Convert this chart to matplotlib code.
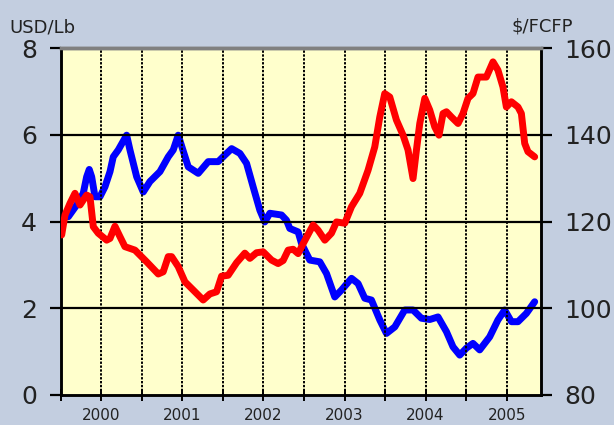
import matplotlib
matplotlib.use("Agg")
import matplotlib.pyplot as plt
from matplotlib.ticker import FixedLocator, NullFormatter

# ---- data (decimal years) ----
red_t = [2000.012, 2000.053, 2000.115, 2000.176, 2000.238, 2000.320, 2000.361, 2000.402,
         2000.463, 2000.567, 2000.608, 2000.669, 2000.731, 2000.792, 2000.916, 2001.060,
         2001.203, 2001.264, 2001.326, 2001.368, 2001.449, 2001.532, 2001.634, 2001.757,
         2001.840, 2001.922, 2001.984, 2002.065, 2002.169, 2002.271, 2002.333, 2002.415,
         2002.497, 2002.600, 2002.681, 2002.743, 2002.805, 2002.866, 2002.928, 2002.990,
         2003.113, 2003.174, 2003.257, 2003.339, 2003.401, 2003.503, 2003.586, 2003.688,
         2003.790, 2003.873, 2003.935, 2003.996, 2004.058, 2004.140, 2004.222, 2004.283,
         2004.345, 2004.387, 2004.428, 2004.490, 2004.551, 2004.613, 2004.665, 2004.715,
         2004.757, 2004.818, 2004.900, 2004.961, 2005.023, 2005.084, 2005.146, 2005.249,
         2005.331, 2005.392, 2005.454, 2005.496, 2005.558, 2005.639, 2005.681, 2005.722,
         2005.762, 2005.845]
red_v = [3.69, 4.15, 4.42, 4.65, 4.38, 4.61, 4.57, 3.88,
         3.73, 3.57, 3.61, 3.89, 3.65, 3.42, 3.34, 3.07,
         2.79, 2.84, 3.19, 3.19, 2.96, 2.61, 2.42, 2.19,
         2.33, 2.38, 2.74, 2.76, 3.05, 3.27, 3.15, 3.28,
         3.30, 3.11, 3.03, 3.10, 3.34, 3.36, 3.26, 3.49,
         3.92, 3.80, 3.57, 3.73, 3.99, 3.96, 4.34, 4.65,
         5.18, 5.72, 6.41, 6.95, 6.87, 6.34, 5.99, 5.65,
         4.99, 5.65, 6.26, 6.84, 6.57, 6.18, 5.99, 6.49,
         6.53, 6.41, 6.26, 6.49, 6.84, 6.95, 7.33, 7.33,
         7.68, 7.49, 7.10, 6.64, 6.76, 6.64, 6.49, 5.80,
         5.61, 5.49]

blue_t = [2000.032, 2000.094, 2000.197, 2000.278, 2000.320, 2000.352, 2000.382, 2000.423,
          2000.484, 2000.546, 2000.608, 2000.648, 2000.710, 2000.813, 2000.854, 2000.937,
          2001.018, 2001.100, 2001.224, 2001.326, 2001.388, 2001.449, 2001.573, 2001.696,
          2001.819, 2001.942, 2002.024, 2002.108, 2002.210, 2002.292, 2002.373, 2002.456,
          2002.517, 2002.579, 2002.723, 2002.784, 2002.825, 2002.928, 2002.970, 2003.031,
          2003.072, 2003.195, 2003.278, 2003.380, 2003.463, 2003.586, 2003.667, 2003.750,
          2003.832, 2003.935, 2004.017, 2004.120, 2004.243, 2004.345, 2004.448, 2004.551,
          2004.653, 2004.757, 2004.838, 2004.921, 2005.003, 2005.084, 2005.167, 2005.290,
          2005.392, 2005.475, 2005.558, 2005.639, 2005.742, 2005.845]
blue_v = [121.5, 121.1, 123.8, 126.5, 130.3, 132.0, 130.3, 125.7,
          125.7, 128.0, 131.5, 134.9, 136.5, 139.9, 136.5, 130.3,
          126.8, 129.2, 131.5, 134.9, 136.5, 139.9, 132.6, 131.1,
          133.8, 133.8, 135.3, 136.8, 135.7, 133.4, 128.0, 122.6,
          119.9, 121.9, 121.5, 120.3, 118.4, 117.6, 114.9, 112.6,
          111.1, 110.7, 108.0, 102.6, 104.2, 106.9, 105.7, 102.3,
          101.9, 97.3, 94.2, 95.7, 99.6, 99.6, 97.7, 97.4,
          98.0, 94.6, 91.1, 89.2, 90.8, 91.9, 90.4, 93.4,
          97.3, 99.6, 96.9, 96.9, 98.8, 101.5]

year_labels = ["2000", "2001", "2002", "2003", "2004", "2005"]
left_ticks = [0, 2, 4, 6, 8]
right_ticks = [80, 100, 120, 140, 160]

W, H = 614, 425
fig = plt.figure(figsize=(W / 100, H / 100), dpi=100)
fig.patch.set_facecolor("#c3cee0")

ax = fig.add_axes([60.7 / W, (H - 395) / H, (541 - 60.7) / W, (395 - 48) / H])
ax.set_facecolor("#ffffcc")
ax2 = ax.twinx()

ax.set_xlim(2000.0, 2005.923)
ax.set_ylim(0, 8)
ax2.set_ylim(80, 160)

# grid lines
for y in [2, 4, 6]:
    ax.axhline(y, color="black", lw=1.6, zorder=1)
for k in range(1, 12):
    ax.axvline(2000.0 + 0.5 * k, color="black", lw=1.4, ls=(0, (1.2, 0.8)), zorder=1)

ax2.plot(blue_t, blue_v, color="#0000ff", lw=5.0, solid_capstyle="round",
         solid_joinstyle="round", zorder=3)
ax.plot(red_t, red_v, color="#ff0000", lw=5.0, solid_capstyle="round",
        solid_joinstyle="round", zorder=3)
ax.set_zorder(ax2.get_zorder() + 1)
ax.patch.set_visible(False)
ax2.patch.set_visible(True)
ax2.patch.set_facecolor("#ffffcc")
# put red on top: red is on ax (above ax2)

# ticks
ax.set_yticks(left_ticks)
ax2.set_yticks(right_ticks)
ax.xaxis.set_major_locator(FixedLocator([2000.5 + i for i in range(6)]))
ax.set_xticklabels(year_labels)
ax.xaxis.set_minor_locator(FixedLocator([2000.0 + i for i in range(7)]))
ax.xaxis.set_minor_formatter(NullFormatter())
ax.tick_params(axis="x", which="both", direction="inout", length=9, width=1.4,
               labelsize=11, pad=5, colors="black")
ax.tick_params(axis="y", direction="out", length=8, width=1.6, labelsize=18, pad=9)
ax2.tick_params(axis="y", direction="out", length=8, width=1.6, labelsize=18, pad=9)
for a in (ax, ax2):
    for t in a.get_yticklabels() + a.get_xticklabels():
        t.set_color("#222222")

for a in (ax, ax2):
    a.spines["left"].set_linewidth(1.8)
    a.spines["right"].set_linewidth(1.8)
    a.spines["bottom"].set_linewidth(1.8)
    a.spines["top"].set_color("#808080")
    a.spines["top"].set_linewidth(2.5)

fig.text(9 / W, 1 - 32 / H, "USD/Lb", fontsize=13, color="#222222", ha="left", va="baseline")
fig.text(542 / W, 1 - 32 / H, "$/FCFP", fontsize=13, color="#222222", ha="center", va="baseline")

fig.savefig("out.png", dpi=100, facecolor=fig.get_facecolor())
